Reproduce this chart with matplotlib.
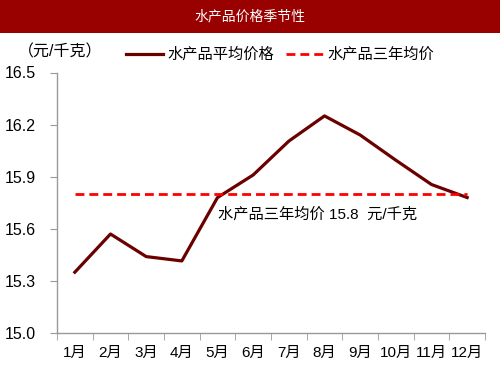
import matplotlib
matplotlib.use('Agg')
from matplotlib import pyplot as plt
import numpy as np

plt.rcParams['font.family'] = ['Liberation Sans', 'Noto Sans CJK SC', 'DejaVu Sans']

months = ['1月', '2月', '3月', '4月', '5月', '6月', '7月', '8月', '9月', '10月', '11月', '12月']
avg_price = [15.35, 15.57, 15.44, 15.415, 15.78, 15.91, 16.105, 16.25, 16.14, 15.995, 15.855, 15.78]
three_year_avg = 15.8
y_ticks = [15.0, 15.3, 15.6, 15.9, 16.2, 16.5]

fig = plt.figure(figsize=(5, 3.75), dpi=100)

# title band
band = fig.add_axes([0, 1 - 33 / 375, 1, 33 / 375])
band.set_facecolor('#990000')
band.set_xticks([])
band.set_yticks([])
for s in band.spines.values():
    s.set_visible(False)
band.text(0.5, 0.5, '水产品价格季节性', color='white', fontsize=10,
          ha='center', va='center', transform=band.transAxes)

ax = fig.add_axes([57 / 500, 1 - 333 / 375, (485 - 57) / 500, (333 - 72.5) / 375])
x = np.arange(len(months))
ax.plot(x, avg_price, color='#6B0000', linewidth=2.3, label='水产品平均价格')
ax.plot(x, [three_year_avg] * len(months), color='#FF0000', linewidth=2.0,
        linestyle=(0, (3.2, 1.8)), label='水产品三年均价')

ax.set_xlim(-0.5, len(months) - 0.5)
ax.set_ylim(15.0, 16.5)
ax.set_yticks(y_ticks)
ax.set_yticklabels(['%.1f' % v for v in y_ticks], fontsize=11.5)
ax.set_xticks(x)
ax.set_xticklabels(months, fontsize=11)
ax.set_xticks(np.arange(len(months) + 1) - 0.5, minor=True)
ax.tick_params(axis='x', which='major', length=0, pad=9)
ax.tick_params(axis='x', which='minor', length=5, color='#999999', direction='out')
ax.tick_params(axis='y', length=5, color='#999999', direction='out', pad=10)

for side in ['top', 'right']:
    ax.spines[side].set_visible(False)
for side in ['left', 'bottom']:
    ax.spines[side].set_color('#999999')
    ax.spines[side].set_linewidth(1.0)

ax.text(4.0, 15.68, '水产品三年均价 %.1f  元/千克' % three_year_avg, fontsize=11,
        ha='left', va='center')

fig.text(18 / 500, 1 - 52 / 375, '（元/千克）', fontsize=11.5, ha='left', va='center')
ax.legend(loc='lower left', bbox_to_anchor=(126 / 500, 1 - 62 / 375), bbox_transform=fig.transFigure,
          ncol=2, frameon=False, fontsize=11, handlelength=2.4, columnspacing=0.8,
          handletextpad=0.3, borderaxespad=0, borderpad=0)

fig.savefig('out.png', dpi=100)
